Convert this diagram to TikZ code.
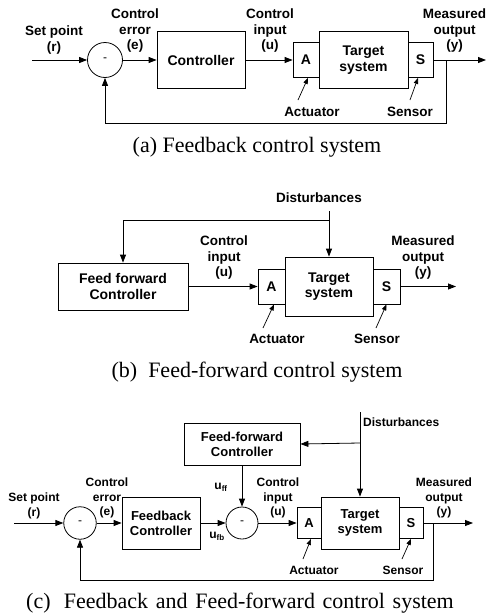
\documentclass[tikz,border=0pt]{standalone}
\usepackage{fontspec}
\setmainfont{Liberation Serif}
\setsansfont{Liberation Sans}
\usetikzlibrary{arrows.meta}
\begin{document}
\begin{tikzpicture}[x=1pt,y=-1pt,
  ln/.style={line width=0.8pt},
  arr/.style={ln,-{Triangle[length=8pt,width=6pt]}},
  sarr/.style={line width=0.7pt,-{Triangle[length=6pt,width=4.5pt]}},
  blk/.style={draw,line width=0.8pt,inner sep=0pt,align=center,font=\fontsize{14}{15.5}\selectfont\sffamily\bfseries},
  blkc/.style={blk,font=\fontsize{13}{15}\selectfont\sffamily\bfseries},
  sumc/.style={circle,draw,line width=0.8pt,inner sep=0pt,font=\fontsize{12}{12}\selectfont\sffamily},
  lb/.style={align=center,inner sep=0pt,font=\fontsize{13.5}{15.5}\selectfont\sffamily\bfseries},
  lbc/.style={align=center,inner sep=0pt,font=\fontsize{12}{14.5}\selectfont\sffamily\bfseries},
  captxt/.style={inner sep=0pt,font=\fontsize{22}{24}\selectfont\rmfamily}
]
\useasboundingbox (0,0) rectangle (487,616);

% ---------------- (a) ----------------
\node[sumc,minimum size=35pt] (a1) at (105,60) {-};
\node[blk,minimum width=88pt,minimum height=57pt] (actrl) at (201,60) {Controller};
\node[blk,minimum width=26pt,minimum height=35pt] (aA) at (306,60) {A};
\node[blk,minimum width=89pt,minimum height=57pt] (aT) at (363.5,60) {Target\\system};
\node[blk,minimum width=25pt,minimum height=35pt] (aS) at (420.5,60) {S};
\coordinate (ain) at (32,60);
\coordinate (aout) at (486,60);
\coordinate (atap) at (446,60);
\coordinate (aat) at (298,100);
\coordinate (ast) at (410,100);
\draw[arr] (ain) -- (a1.west);
\draw[arr] (a1.east) -- (actrl.west);
\draw[arr] (actrl.east) -- (aA.west);
\draw[arr] (aS.east) -- (aout);
\draw[arr] (atap) -- ++(0,63) -| (a1.south);
\draw[sarr] (aat) -- ([xshift=2pt]aA.south);
\draw[sarr] (ast) -- ([xshift=-2.5pt]aS.south);
\node[lb] (asp) at (54,40) {Set point\\(r)};
\node[lb] (aerr) at (135,31) {Control\\error\\(e)};
\node[lb] (ain2) at (270,31) {Control\\input\\(u)};
\node[lb] (amo) at (454.5,31) {Measured\\output\\(y)};
\node[lb] (aact) at (312,112) {Actuator};
\node[lb] (asen) at (410,112) {Sensor};
\node[captxt] (capa) at (257,147) {(a) Feedback control system};

% ---------------- (b) ----------------
\node[blk,minimum width=130pt,minimum height=47pt] (bFF) at (123,286.5) {Feed forward\\Controller};
\node[blk,minimum width=27pt,minimum height=35pt] (bA) at (271.5,286.5) {A};
\node[blk,minimum width=88pt,minimum height=59pt] (bT) at (329,286.5) {Target\\system};
\node[blk,minimum width=27pt,minimum height=35pt] (bS) at (386.5,286.5) {S};
\coordinate (bdtop) at (329,211);
\coordinate (bdj) at (329,220);
\coordinate (bout) at (456,286.5);
\coordinate (bat) at (263,328);
\coordinate (bst) at (376,328);
\draw[arr] (bdtop) -- (bT.north);
\draw[arr] (bdj) -| (bFF.north);
\draw[arr] (bFF.east) -- (bA.west);
\draw[arr] (bS.east) -- (bout);
\draw[sarr] (bat) -- ([xshift=2.5pt]bA.south);
\draw[sarr] (bst) -- (bS.south);
\node[lb] (bdist) at (319,198) {Disturbances};
\node[lb] (bin) at (224,258) {Control\\input\\(u)};
\node[lb] (bmo) at (423,258) {Measured\\output\\(y)};
\node[lb] (bact) at (277,339) {Actuator};
\node[lb] (bsen) at (377,339) {Sensor};
\node[captxt] (capb) at (257,372) {(b)\hspace{0.5em}Feed-forward control system};

% ---------------- (c) ----------------
\node[sumc,minimum size=32.5pt] (c1) at (80,523) {-};
\node[blkc,minimum width=78pt,minimum height=52pt] (cFB) at (161,523) {Feedback\\Controller};
\node[sumc,minimum size=32pt] (c2) at (242,523) {-};
\node[blkc,minimum width=116pt,minimum height=42pt] (cFF) at (242,444) {Feed-forward\\Controller};
\node[blkc,minimum width=24pt,minimum height=31pt] (cA) at (309,523) {A};
\node[blkc,minimum width=78pt,minimum height=52pt] (cT) at (360,523) {Target\\system};
\node[blkc,minimum width=24pt,minimum height=31pt] (cS) at (411,523) {S};
\coordinate (cin) at (14,523);
\coordinate (cout) at (473,523);
\coordinate (ctap) at (433,523);
\coordinate (cdtop) at (360,412);
\coordinate (cdj) at (360,443);
\coordinate (cat) at (303,559);
\coordinate (cst) at (402,559);
\draw[arr] (cin) -- (c1.west);
\draw[arr] (c1.east) -- (cFB.west);
\draw[arr] (cFB.east) -- (c2.west);
\draw[arr] (cFF.south) -- (c2.north);
\draw[arr] (c2.east) -- (cA.west);
\draw[arr] (cS.east) -- (cout);
\draw[arr] (ctap) -- ++(0,57) -| (c1.south);
\draw[arr] (cdtop) -- (cT.north);
\draw[arr] (cdj) -- (cFF.east);
\draw[sarr] (cat) -- ([xshift=2pt]cA.south);
\draw[sarr] (cst) -- (cS.south);
\node[lbc] (csp) at (34,506) {Set point\\(r)};
\node[lbc] (cerr) at (107,498) {Control\\error\\(e)};
\node[lbc] (cin2) at (278,498) {Control\\input\\(u)};
\node[lbc] (cmo) at (444,498) {Measured\\output\\(y)};
\node[lbc] (cuff) at (221,487) {u\textsubscript{ff}};
\node[lbc] (cufb) at (217,536) {u\textsubscript{fb}};
\node[lbc,anchor=west] (cdist) at (363,422) {Disturbances};
\node[lbc] (cact) at (314,570) {Actuator};
\node[lbc] (csen) at (403,570) {Sensor};
\node[captxt] (capc) at (240,603) {(c)\hspace{0.6em}Feedback\hspace{0.1em} and\hspace{0.1em} Feed-forward\hspace{0.1em} control\hspace{0.1em} system};
\end{tikzpicture}
\end{document}
